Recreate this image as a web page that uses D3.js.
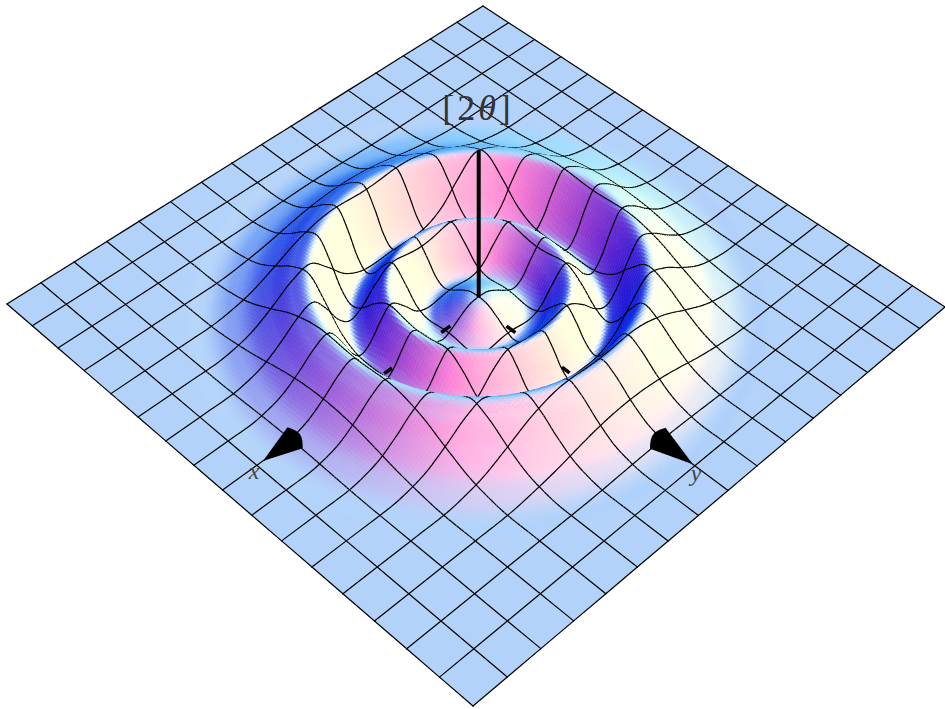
<!DOCTYPE html>
<html><head><meta charset="utf-8">
<style>html,body{margin:0;padding:0;background:#fff}svg{display:block}</style>
<script src="https://cdn.jsdelivr.net/npm/d3@7/dist/d3.min.js"></script></head>
<body><svg id="c" width="945" height="709"></svg>
<script>
// ---- data ----
const gridCells = 16;
const planeCorners = [[483,6],[945,307],[473,706],[7,304]]; // far, right, near, left
const profileRadius = [0,0.3,0.6,0.9,1.2,1.5,1.8,2.2,2.5,2.8,3.1,3.4,3.7,4.07,4.5,5,5.5,6,6.4,7,12];
const profileHeight = [0.28,0.24,0.08,-0.12,-0.25,-0.1,0.3,0.68,0.38,-0.06,-0.24,0.06,0.62,1.12,0.96,0.55,0.22,0.06,0,0,0];
const axisHeight = [0.25,4.85];
const xAxisMarks = [[0.95,1.25],[2.85,3.1]];
const yAxisMarks = [[0.95,1.25],[2.8,3.05]];
const coneBase = 5.86, coneTipX = 6.82, coneTipY = 6.94;
const labels = ["[2","θ","]","x","y"];

// ---- scales ----
const unit = d3.scaleLinear().domain([-gridCells/2,gridCells/2]).range([0,1]);
const zPx = d3.scaleLinear().domain([0,1]).range([0,32]);
const S = 12, flatR = 6.6, elev = Math.asin(0.63);
const line = d3.line();

// plane-to-screen mapping from the four corners
const [[x0,y0],[x1,y1],[x2,y2],[x3,y3]] = planeCorners;
const sx=x0-x1+x2-x3, sy=y0-y1+y2-y3, dx1=x1-x2, dx2=x3-x2, dy1=y1-y2, dy2=y3-y2;
const det=dx1*dy2-dx2*dy1, g=(sx*dy2-dx2*sy)/det, h=(dx1*sy-sx*dy1)/det;
const A=x1-x0+g*x1, B=x3-x0+h*x3, D=y1-y0+g*y1, E=y3-y0+h*y3;
const w0 = 1+g*.5+h*.5;
function project(a,b,z){
  const u=unit(a), v=unit(b), w=1+g*u+h*v;
  return [(A*u+B*v+x0)/w, (D*u+E*v+y0)/w - zPx(z)*(w0/w)];
}
// smooth reading of the radial table
const tan = profileRadius.map((r,i)=>{
  const l=Math.max(i-1,0), n=Math.min(i+1,profileRadius.length-1);
  return (profileHeight[n]-profileHeight[l])/(profileRadius[n]-profileRadius[l]);
});
const seg = d3.bisector(d=>d).right;
function height(r){
  const i=Math.min(Math.max(seg(profileRadius,r)-1,0),profileRadius.length-2);
  const d=profileRadius[i+1]-profileRadius[i], t=(r-profileRadius[i])/d, t2=t*t, t3=t2*t;
  return (2*t3-3*t2+1)*profileHeight[i]+(t3-2*t2+t)*d*tan[i]+(-2*t3+3*t2)*profileHeight[i+1]+(t3-t2)*d*tan[i+1];
}
const surf=(a,b)=>height(Math.hypot(a,b));
const chan=d3.scaleLinear().domain([0,1]).range([0,255]).clamp(true);
function shade(a,b){
  const e=0.02;
  let za=(surf(a+e,b)-surf(a-e,b))/(2*e), zb=(surf(a,b+e)-surf(a,b-e))/(2*e);
  const m=Math.hypot(za,zb);
  if(m>1e-6){const f=1.05*Math.tanh(m/1.05)/m; za*=f; zb*=f;}
  const zX=(za-zb)/Math.SQRT2, zD=(za+zb)/Math.SQRT2;
  const L=Math.hypot(zX,zD,1), ax=-zX/L, ad=-zD/L, az=1/L;
  const nx=ax, ny=az*Math.cos(elev)-ad*Math.sin(elev), nz=az*Math.sin(elev)+ad*Math.cos(elev);
  const kR=nx<0?.88:.7, kG=nx<0?.8:.58, kB=nx<0?.1:-.03;
  const R=.912+kR*nx-.514*ny+.293*nz, G=.261+kG*nx+.457*ny+.329*nz, Bl=.723+kB*nx+.252*ny+.10*nz;
  return d3.rgb(chan(R),chan(G),chan(Bl)).formatHex();
}

// ---- painter's list, far to near ----
const items=[];
for(let ci=0;ci<gridCells;ci++)for(let cj=0;cj<gridCells;cj++){
  const a0=ci-gridCells/2,b0=cj-gridCells/2;
  const flat=[[a0,b0],[a0+1,b0],[a0,b0+1],[a0+1,b0+1]].every(p=>Math.hypot(...p)>flatR);
  const n=flat?1:S, st=1/n;
  for(let p=0;p<n;p++)for(let q=0;q<n;q++){
    const a=a0+p*st,b=b0+q*st,a2=a+st,b2=b+st;
    const P=(x,y)=>project(x,y,surf(x,y));
    items.push({k:a+b+st, o:0, kind:'q', d:line([P(a,b),P(a2,b),P(a2,b2),P(a,b2)])+'Z', fill:shade(a+st/2,b+st/2)});
    if(p===0) items.push({k:a+b+st,o:1,kind:'l',d:line([P(a,b),P(a,b2)])});
    if(q===0) items.push({k:a+b+st,o:1,kind:'l',d:line([P(a,b),P(a2,b)])});
    if(ci===gridCells-1&&p===n-1) items.push({k:a+b+st,o:1,kind:'l',d:line([P(a2,b),P(a2,b2)])});
    if(cj===gridCells-1&&q===n-1) items.push({k:a+b+st,o:1,kind:'l',d:line([P(a,b2),P(a2,b2)])});
  }
}
items.sort((p,q)=>d3.ascending(p.k,q.k)||d3.ascending(p.o,q.o));
const svg=d3.select('#c');
svg.append('filter').attr('id','soft').append('feGaussianBlur').attr('stdDeviation',0.45);
svg.append('g').attr('filter','url(#soft)').selectAll('path').data(items).join('path')
  .attr('d',d=>d.d)
  .attr('fill',d=>d.kind==='q'?d.fill:'none')
  .attr('stroke',d=>d.kind==='q'?d.fill:'#000')
  .attr('stroke-width',d=>d.kind==='q'?0.6:1.2)
  .attr('stroke-linecap','round');

// ---- axes ----
const ax=svg.append('g');
ax.append('path').attr('d',line(axisHeight.map(z=>project(0,0,z))))
  .attr('stroke','#000').attr('stroke-width',4).attr('fill','none');
ax.selectAll('.mx').data(xAxisMarks).join('path').attr('d',d=>line(d.map(t=>project(0,t,0))))
  .attr('stroke','#000').attr('stroke-width',3.5);
ax.selectAll('.my').data(yAxisMarks).join('path').attr('d',d=>line(d.map(t=>project(t,0,0))))
  .attr('stroke','#000').attr('stroke-width',3.5);
function cone(base,tip){
  const dx=tip[0]-base[0],dy=tip[1]-base[1],l=Math.hypot(dx,dy),ux=dx/l,uy=dy/l,px=-uy*13,py=ux*13;
  const bx=base[0]-ux*6,by=base[1]-uy*6;
  return `M${tip}L${base[0]+px},${base[1]+py}Q${bx+px*.4},${by+py*.4} ${bx},${by}Q${bx-px*.4},${by-py*.4} ${base[0]-px},${base[1]-py}Z`;
}
ax.append('path').attr('d',cone(project(0,coneBase,0),project(0,coneTipX,0))).attr('fill','#000');
ax.append('path').attr('d',cone(project(coneBase,0,0),project(coneTipY,0,0))).attr('fill','#000');

// ---- labels ----
const t=svg.append('text').attr('x',478).attr('y',120).attr('text-anchor','middle')
  .attr('font-family','Liberation Serif').attr('font-size',36).attr('fill','#333').attr('letter-spacing',3);
t.append('tspan').text(labels[0]);
t.append('tspan').attr('font-style','italic').text(labels[1]);
t.append('tspan').text(labels[2]);
svg.append('text').attr('x',254).attr('y',479).attr('text-anchor','middle').attr('font-family','Liberation Serif')
  .attr('font-style','italic').attr('font-size',24).attr('fill','#444').text(labels[3]);
svg.append('text').attr('x',696).attr('y',481).attr('text-anchor','middle').attr('font-family','Liberation Serif')
  .attr('font-style','italic').attr('font-size',24).attr('fill','#444').text(labels[4]);
</script></body></html>
